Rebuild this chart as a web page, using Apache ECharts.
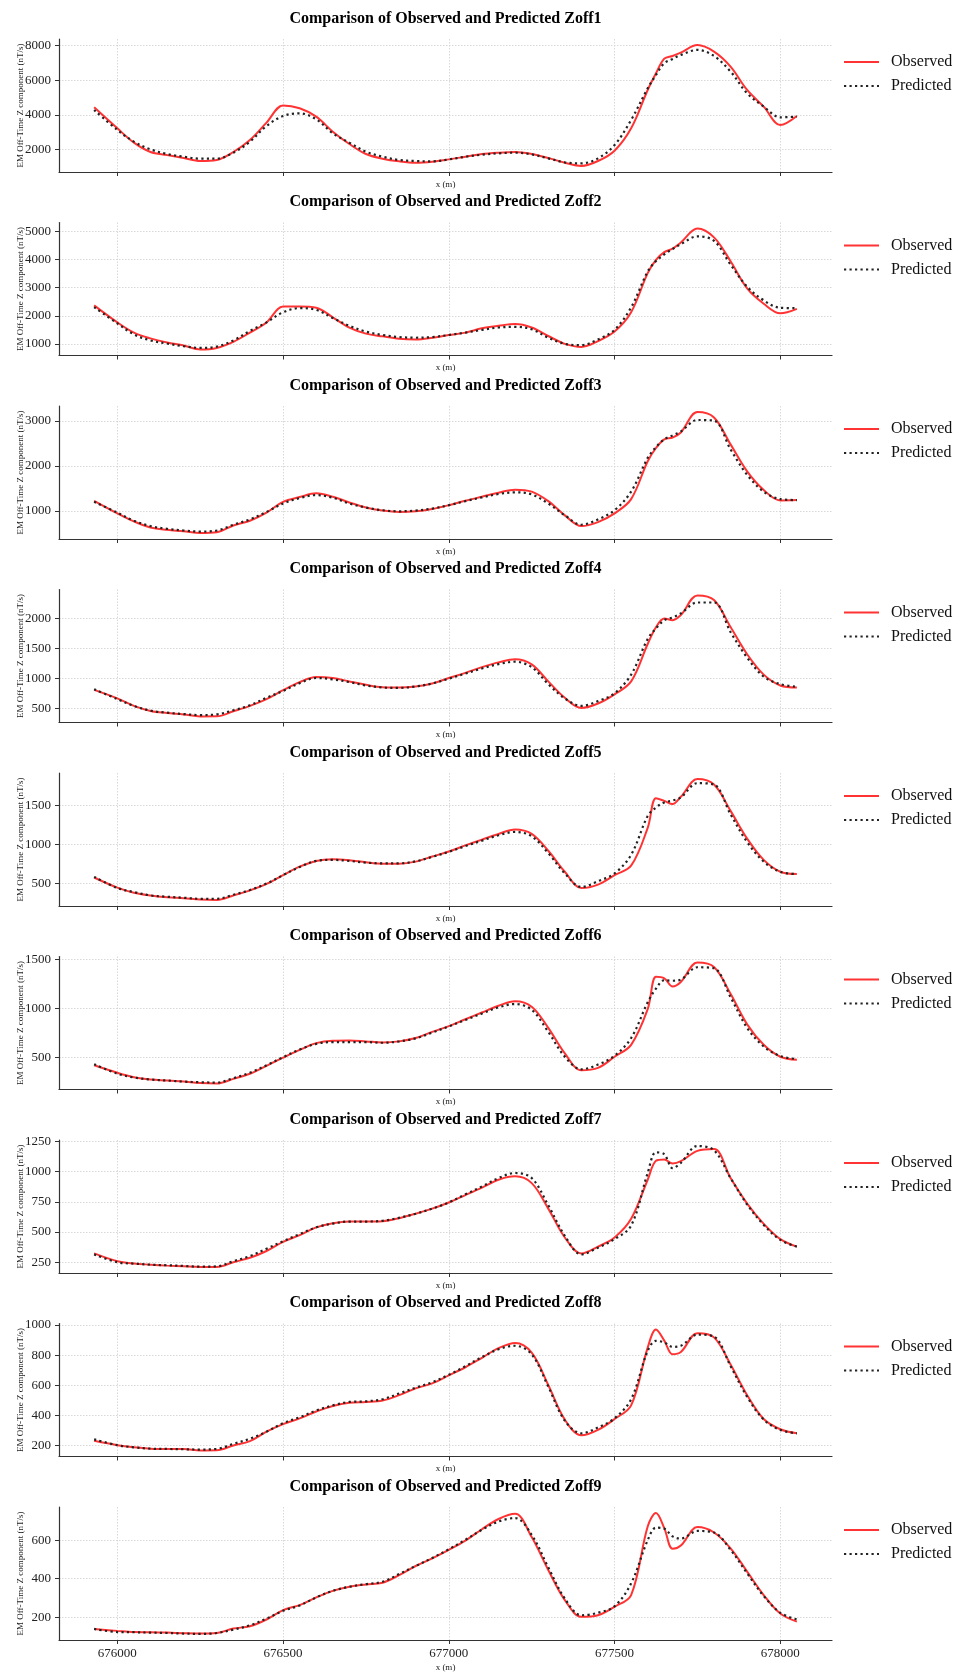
<!DOCTYPE html>
<html>
<head>
<meta charset="utf-8">
<script src="https://cdn.jsdelivr.net/npm/echarts@6/dist/echarts.min.js"></script>
<style>
  html, body { margin: 0; padding: 0; background: #ffffff; }
  #chart { width: 956px; height: 1674px; }
</style>
</head>
<body>
<div id="chart"></div>
<script>
// Profile positions along the line (m), shared by every channel
const xPositions = [675930, 676000, 676050, 676100, 676150, 676200, 676250, 676300, 676350, 676400,
  676450, 676500, 676550, 676600, 676650, 676700, 676750, 676800, 676850, 676900,
  676950, 677000, 677050, 677100, 677150, 677200, 677250, 677300, 677350, 677400,
  677450, 677500, 677550, 677600, 677625, 677650, 677675, 677700, 677750, 677800,
  677850, 677900, 677950, 678000, 678050];
const xTicks = [676000, 676500, 677000, 677500, 678000];

const channelNames = ['Zoff1', 'Zoff2', 'Zoff3', 'Zoff4', 'Zoff5', 'Zoff6', 'Zoff7', 'Zoff8', 'Zoff9'];

// Observed / predicted off-time Z response (nT/s) per channel
const observedZoff1 = [4430, 3215, 2386, 1846, 1672, 1500, 1330, 1390, 1846, 2540, 3543, 4540, 4373, 3890, 3022, 2308, 1730, 1460, 1306, 1228, 1286, 1420, 1575, 1730, 1807, 1846, 1730, 1500, 1228, 1040, 1325, 1923, 3215, 5433, 6398, 7247, 7400, 7594, 8030, 7652, 6784, 5433, 4469, 3408, 3930];
const predictedZoff1 = [4276, 3119, 2444, 2000, 1730, 1576, 1460, 1460, 1807, 2444, 3350, 3929, 4083, 3736, 2926, 2386, 1865, 1576, 1383, 1325, 1306, 1420, 1575, 1690, 1770, 1807, 1710, 1480, 1248, 1190, 1480, 2250, 3700, 5530, 6300, 6977, 7228, 7459, 7748, 7400, 6495, 5240, 4470, 3852, 3890];

const observedZoff2 = [2370, 1764, 1400, 1194, 1048, 940, 800, 855, 1073, 1400, 1764, 2330, 2330, 2290, 1945, 1580, 1364, 1267, 1182, 1158, 1218, 1315, 1400, 1557, 1642, 1703, 1582, 1279, 1000, 891, 1097, 1436, 2127, 3521, 3994, 4272, 4394, 4612, 5110, 4794, 3945, 2976, 2430, 2090, 2248];
const predictedZoff2 = [2309, 1727, 1339, 1121, 1012, 915, 855, 903, 1121, 1460, 1764, 2127, 2273, 2212, 1921, 1642, 1436, 1315, 1242, 1218, 1242, 1315, 1400, 1497, 1582, 1606, 1521, 1218, 1000, 952, 1158, 1500, 2300, 3582, 3950, 4188, 4380, 4551, 4830, 4672, 3824, 3036, 2551, 2285, 2273];

const observedZoff3 = [1226, 947, 767, 632, 579, 549, 510, 526, 677, 782, 962, 1203, 1308, 1391, 1316, 1188, 1075, 1008, 977, 992, 1045, 1128, 1226, 1316, 1406, 1474, 1429, 1218, 902, 662, 752, 947, 1263, 2105, 2400, 2594, 2632, 2745, 3200, 3080, 2481, 1880, 1466, 1233, 1241];
const predictedZoff3 = [1203, 962, 782, 662, 601, 564, 541, 564, 692, 812, 977, 1165, 1286, 1353, 1293, 1165, 1075, 1015, 992, 1008, 1053, 1128, 1218, 1301, 1376, 1414, 1368, 1165, 902, 692, 812, 1015, 1430, 2180, 2420, 2594, 2680, 2767, 3023, 3008, 2369, 1805, 1429, 1263, 1241];

const observedZoff4 = [810, 669, 545, 461, 427, 404, 370, 372, 455, 545, 658, 805, 940, 1025, 1008, 951, 895, 855, 850, 867, 917, 1008, 1092, 1188, 1267, 1318, 1233, 951, 680, 511, 585, 737, 951, 1572, 1850, 1995, 1966, 2051, 2375, 2300, 1854, 1402, 1064, 884, 850];
const predictedZoff4 = [821, 658, 545, 466, 432, 410, 393, 404, 472, 556, 680, 793, 923, 1008, 985, 940, 884, 850, 844, 867, 917, 996, 1081, 1166, 1239, 1278, 1188, 906, 669, 545, 624, 754, 1064, 1656, 1830, 1966, 2010, 2079, 2260, 2260, 1769, 1346, 1030, 906, 861];

const observedZoff5 = [574, 444, 379, 344, 322, 309, 292, 286, 344, 409, 491, 604, 712, 786, 807, 794, 768, 751, 751, 777, 842, 907, 985, 1059, 1132, 1188, 1132, 916, 647, 439, 483, 604, 725, 1210, 1590, 1555, 1515, 1608, 1835, 1764, 1427, 1072, 799, 647, 617];
const predictedZoff5 = [582, 439, 387, 344, 327, 314, 301, 301, 353, 413, 496, 604, 708, 786, 799, 786, 764, 755, 755, 781, 838, 903, 976, 1046, 1115, 1158, 1102, 885, 626, 452, 526, 626, 864, 1362, 1470, 1535, 1560, 1600, 1782, 1764, 1383, 1028, 777, 647, 617];

const observedZoff6 = [420, 344, 299, 275, 265, 254, 240, 235, 282, 334, 414, 497, 576, 645, 670, 673, 663, 652, 663, 697, 760, 818, 888, 957, 1026, 1071, 1016, 801, 542, 369, 393, 507, 628, 991, 1320, 1305, 1222, 1268, 1465, 1420, 1147, 836, 628, 507, 476];
const predictedZoff6 = [431, 334, 296, 275, 265, 254, 247, 244, 289, 344, 420, 503, 580, 638, 656, 656, 656, 649, 663, 694, 753, 815, 881, 946, 1009, 1043, 984, 760, 507, 379, 427, 517, 697, 1061, 1200, 1285, 1280, 1292, 1417, 1407, 1112, 801, 611, 514, 483];

const observedZoff7 = [323, 258, 239, 230, 222, 216, 211, 211, 250, 287, 343, 419, 475, 539, 573, 587, 587, 590, 615, 652, 694, 745, 806, 868, 933, 961, 905, 694, 455, 323, 379, 455, 610, 933, 1090, 1101, 1068, 1087, 1172, 1188, 947, 736, 568, 441, 379];
const predictedZoff7 = [315, 250, 239, 230, 225, 219, 213, 216, 258, 301, 362, 424, 483, 539, 570, 587, 587, 593, 618, 652, 694, 745, 812, 877, 947, 989, 947, 722, 469, 315, 371, 441, 553, 989, 1160, 1144, 1030, 1073, 1212, 1177, 947, 728, 559, 435, 379];

const observedZoff8 = [229, 200, 186, 177, 175, 175, 165, 166, 198, 227, 290, 340, 379, 424, 461, 483, 488, 497, 533, 578, 612, 665, 719, 782, 846, 880, 816, 601, 370, 266, 302, 374, 465, 850, 970, 896, 805, 820, 946, 918, 737, 533, 374, 306, 279];
const predictedZoff8 = [239, 200, 186, 177, 175, 173, 171, 175, 209, 243, 290, 347, 386, 431, 465, 488, 492, 506, 544, 583, 619, 669, 726, 787, 839, 862, 805, 590, 363, 279, 318, 379, 506, 828, 895, 884, 855, 862, 936, 923, 726, 522, 370, 302, 279];

const observedZoff9 = [139, 129, 123, 122, 120, 117, 115, 118, 141, 153, 188, 237, 263, 303, 337, 358, 370, 379, 419, 466, 506, 550, 598, 657, 710, 737, 616, 445, 289, 202, 210, 254, 315, 671, 741, 663, 555, 572, 668, 640, 558, 437, 315, 219, 177];
const predictedZoff9 = [139, 123, 122, 120, 118, 115, 113, 118, 136, 158, 193, 233, 261, 303, 337, 358, 372, 384, 424, 466, 508, 553, 602, 654, 697, 715, 628, 459, 297, 210, 223, 257, 376, 600, 665, 660, 620, 608, 648, 640, 550, 428, 310, 223, 188];

// y tick labels per channel
const yTicksZoff1 = [2000, 4000, 6000, 8000];
const yTicksZoff2 = [1000, 2000, 3000, 4000, 5000];
const yTicksZoff3 = [1000, 2000, 3000];
const yTicksZoff4 = [500, 1000, 1500, 2000];
const yTicksZoff5 = [500, 1000, 1500];
const yTicksZoff6 = [500, 1000, 1500];
const yTicksZoff7 = [250, 500, 750, 1000, 1250];
const yTicksZoff8 = [200, 400, 600, 800, 1000];
const yTicksZoff9 = [200, 400, 600];

const observedSets = [observedZoff1, observedZoff2, observedZoff3, observedZoff4, observedZoff5, observedZoff6, observedZoff7, observedZoff8, observedZoff9];
const predictedSets = [predictedZoff1, predictedZoff2, predictedZoff3, predictedZoff4, predictedZoff5, predictedZoff6, predictedZoff7, predictedZoff8, predictedZoff9];
const yTickSets = [yTicksZoff1, yTicksZoff2, yTicksZoff3, yTicksZoff4, yTicksZoff5, yTicksZoff6, yTicksZoff7, yTicksZoff8, yTicksZoff9];

// ---- layout ----
const SERIF = '"Liberation Serif", "Times New Roman", "DejaVu Serif", serif';
const GRID_LEFT = 59;
const GRID_WIDTH = 773;
const FIRST_TOP = 39;
const PITCH = 183.5;
const GRID_HEIGHT = 133;
const CENTER_X = GRID_LEFT + GRID_WIDTH / 2;
const LAST = channelNames.length - 1;

// 5% padding on either side of the data extent
function paddedExtent(values) {
  const lo = Math.min.apply(null, values);
  const hi = Math.max.apply(null, values);
  const pad = (hi - lo) * 0.05;
  return [lo - pad, hi + pad];
}
const xExtent = paddedExtent(xPositions);
const plainNumber = function (v) { return String(v); };

const gridLineStyle = { color: '#cfcfcf', width: 0.8, type: [1.5, 1.5] };

const grids = [], xAxes = [], yAxes = [], titles = [], legends = [], series = [];

channelNames.forEach(function (name, i) {
  const top = FIRST_TOP + PITCH * i;
  const obs = observedSets[i];
  const pred = predictedSets[i];
  const ticks = yTickSets[i];
  const yExtent = paddedExtent(obs.concat(pred));

  grids.push({ left: GRID_LEFT, top: top, width: GRID_WIDTH, height: GRID_HEIGHT,
    containLabel: false, outerBoundsMode: 'none' });

  titles.push({
    text: 'Comparison of Observed and Predicted ' + name,
    left: CENTER_X, top: top - 20.5, padding: 0,
    textAlign: 'center', textVerticalAlign: 'middle',
    textStyle: { fontFamily: SERIF, fontSize: 16, fontWeight: 'bold', color: '#000' }
  });

  legends.push({
    orient: 'vertical', left: 843, top: top + 15, padding: 0,
    itemWidth: 35, itemHeight: 14, itemGap: 8,
    data: ['Observed', 'Predicted'],
    itemStyle: { opacity: 0 },
    textStyle: { fontFamily: SERIF, fontSize: 16, color: '#111', padding: [0, 0, 0, 7] }
  });

  xAxes.push({
    gridIndex: i, type: 'value',
    min: xExtent[0], max: xExtent[1],
    name: 'x (m)', nameLocation: 'middle', nameGap: i === LAST ? 23 : 8, nameMoveOverlap: false,
    nameTextStyle: { fontFamily: SERIF, fontSize: 9, color: '#222' },
    axisLine: { show: true, onZero: false, lineStyle: { color: '#333', width: 1.2 } },
    axisTick: { show: true, length: 4, customValues: xTicks, lineStyle: { color: '#333', width: 1 } },
    axisLabel: { show: i === LAST, customValues: xTicks, formatter: plainNumber,
      fontFamily: SERIF, fontSize: 13, color: '#222', margin: 7 },
    splitLine: { show: true, lineStyle: gridLineStyle }
  });

  yAxes.push({
    gridIndex: i, type: 'value',
    min: yExtent[0], max: yExtent[1],
    name: 'EM Off-Time Z component (nT/s)', nameLocation: 'middle', nameGap: 34, nameRotate: 90,
    nameMoveOverlap: false,
    nameTextStyle: { fontFamily: SERIF, fontSize: 9, color: '#222' },
    axisLine: { show: true, lineStyle: { color: '#333', width: 1.2 } },
    axisTick: { show: true, length: 4, customValues: ticks, lineStyle: { color: '#333', width: 1 } },
    axisLabel: { customValues: ticks, formatter: plainNumber,
      fontFamily: SERIF, fontSize: 13, color: '#222', margin: 8 },
    splitLine: { show: true, lineStyle: gridLineStyle }
  });

  series.push({
    type: 'line', name: 'Observed', xAxisIndex: i, yAxisIndex: i,
    data: xPositions.map(function (x, j) { return [x, obs[j]]; }),
    symbol: 'none', smooth: 0.35,
    lineStyle: { color: '#ff3333', width: 2 }, itemStyle: { color: '#ff3333' }, z: 2
  });
  series.push({
    type: 'line', name: 'Predicted', xAxisIndex: i, yAxisIndex: i,
    data: xPositions.map(function (x, j) { return [x, pred[j]]; }),
    symbol: 'none', smooth: 0.35,
    lineStyle: { color: '#222222', width: 2.2, type: [2.2, 3.3] }, itemStyle: { color: '#222222' }, z: 3
  });
});

const chart = echarts.init(document.getElementById('chart'), null, { renderer: 'canvas' });
chart.setOption({
  backgroundColor: '#ffffff',
  animation: false,
  title: titles,
  legend: legends,
  grid: grids,
  xAxis: xAxes,
  yAxis: yAxes,
  series: series
});
</script>
</body>
</html>
